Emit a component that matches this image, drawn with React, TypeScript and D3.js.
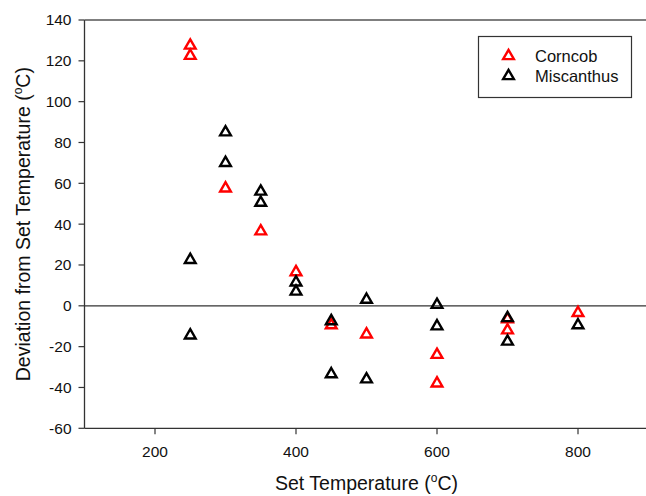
import * as d3 from 'd3'

// set temperature (x) and deviation (y)
const corncobTemp = [250, 250, 300, 350, 400, 450, 500, 600, 600, 700, 700, 800]
const corncobDev = [127.5, 122.5, 57.5, 36.5, 16.5, -9.5, -14, -24, -38, -6.5, -12, -3.5]

const miscTemp = [250, 250, 300, 300, 350, 350, 400, 400, 450, 450, 500, 500, 600, 600, 700, 700, 800]
const miscDev = [22.5, -14.5, 85, 70, 56, 50.5, 11.5, 7, -7.5, -33.5, 3, -36, 0.5, -10, -6, -17.5, -9.5]

const xTicks = [200, 400, 600, 800]
const yTicks = [-60, -40, -20, 0, 20, 40, 60, 80, 100, 120, 140]

const seriesNames = ['Corncob', 'Miscanthus']
const seriesColors = ['#ff0000', '#000000']

const W = 646
const H = 496
const font = '"Liberation Sans", Arial, sans-serif'

const App = () => {
    const x = d3.scaleLinear().domain([100, 900]).range([84.5, 648.5])
    const y = d3.scaleLinear().domain([-60, 140]).range([428.3, 20])

    const tri = d3.symbol(d3.symbolTriangle, 50)()

    const series = [
        corncobTemp.map((t, i) => ({ t, v: corncobDev[i] })),
        miscTemp.map((t, i) => ({ t, v: miscDev[i] })),
    ]

    const [x0, x1] = x.range()
    const [y0, y1] = y.range()

    return (
        <svg width={W} height={H} style={{ position: 'absolute', left: 0, top: 0, background: '#fff' }} fontFamily={font}>
            {/* frame: left, top, bottom */}
            <line x1={x0} x2={x0} y1={y1} y2={y0} stroke='#333' strokeWidth={1.3} />
            <line x1={x0} x2={x1} y1={y1} y2={y1} stroke='#555' strokeWidth={1.3} />
            <line x1={x0} x2={x1} y1={y0} y2={y0} stroke='#333' strokeWidth={1.3} />
            <line x1={x1} x2={x1} y1={y1} y2={y0} stroke='#333' strokeWidth={1.3} />
            {/* zero line */}
            <line x1={x0} x2={x1} y1={y(0)} y2={y(0)} stroke='#333' strokeWidth={1.3} />

            {yTicks.map(t => (
                <g key={'y' + t}>
                    <line x1={x0 - 6} x2={x0} y1={y(t)} y2={y(t)} stroke='#333' strokeWidth={1.2} />
                    <text x={x0 - 13} y={y(t)} dy='0.35em' textAnchor='end' fontSize={15.5} fill='#111'>{t}</text>
                </g>
            ))}
            {xTicks.map(t => (
                <g key={'x' + t}>
                    <line x1={x(t)} x2={x(t)} y1={y0} y2={y0 + 6} stroke='#333' strokeWidth={1.2} />
                    <text x={x(t)} y={y0 + 23} dy='0.35em' textAnchor='middle' fontSize={15.5} fill='#111'>{t}</text>
                </g>
            ))}

            <text x={(x0 + x1) / 2} y={490} textAnchor='middle' fontSize={19.5} fill='#111'>
                Set Temperature (<tspan fontSize={12} dy={-8}>o</tspan><tspan dy={8}>C)</tspan>
            </text>
            <text transform={`translate(30,${(y0 + y1) / 2}) rotate(-90)`} textAnchor='middle' fontSize={19.5} fill='#111'>
                Deviation from Set Temperature (<tspan fontSize={12} dy={-8}>o</tspan><tspan dy={8}>C)</tspan>
            </text>

            {series.map((pts, si) => (
                <g key={si}>
                    {pts.map((p, i) => (
                        <path key={i} d={tri!} transform={`translate(${x(p.t)},${y(p.v)})`}
                            fill='none' stroke={seriesColors[si]} strokeWidth={2.4} />
                    ))}
                </g>
            ))}

            {/* legend */}
            <rect x={478.5} y={36.5} width={153} height={61} fill='#fff' stroke='#333' strokeWidth={1.2} />
            {seriesNames.map((n, i) => (
                <g key={n}>
                    <path d={tri!} transform={`translate(508.5,${56 + i * 20})`} fill='none' stroke={seriesColors[i]} strokeWidth={2.4} />
                    <text x={535} y={56 + i * 20} dy='0.35em' fontSize={16.5} fill='#111'>{n}</text>
                </g>
            ))}
        </svg>
    )
}

export default App
